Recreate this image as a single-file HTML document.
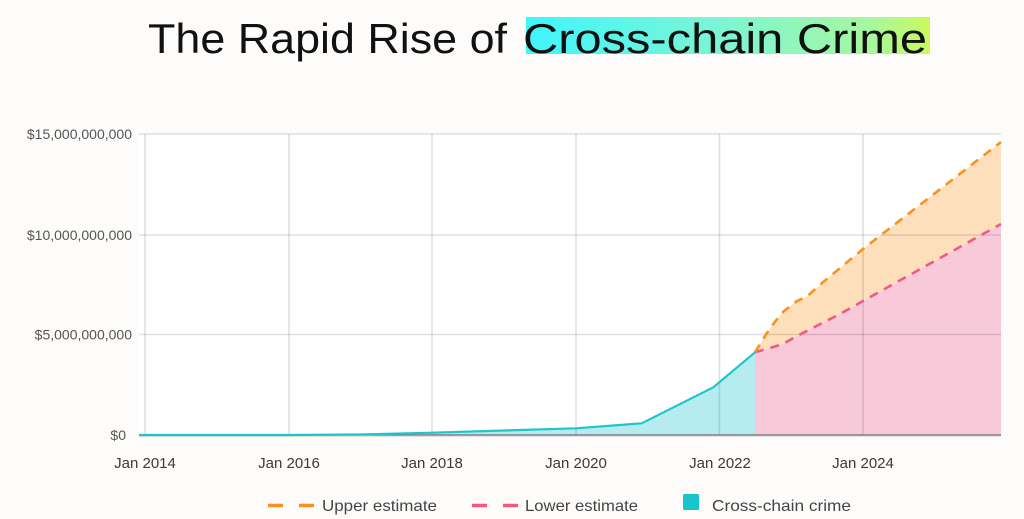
<!DOCTYPE html>
<html>
<head>
<meta charset="utf-8">
<style>
  html, body { margin:0; padding:0; background:#fdfcfb; }
  body { width:1024px; height:519px; overflow:hidden; }
  svg { display:block; }
  text { font-family: "Liberation Sans", "DejaVu Sans", sans-serif; }
</style>
</head>
<body>
<svg width="1024" height="519" viewBox="0 0 1024 519" xmlns="http://www.w3.org/2000/svg">
  <defs>
    <linearGradient id="hl" x1="0" y1="0" x2="1" y2="0">
      <stop offset="0" stop-color="#40f5fd"/>
      <stop offset="0.5" stop-color="#7ef5d2"/>
      <stop offset="0.85" stop-color="#a6f7a0"/>
      <stop offset="1" stop-color="#c9fa5c"/>
    </linearGradient>
  </defs>
  <rect x="0" y="0" width="1024" height="519" fill="#fdfcfb"/>

  <!-- Title -->
  <rect x="526" y="17" width="404" height="37" fill="url(#hl)"/>
  <text x="148" y="53" font-size="42" fill="#111" textLength="359" lengthAdjust="spacingAndGlyphs">The Rapid Rise of</text>
  <text x="523" y="53" font-size="42" fill="#111" textLength="404" lengthAdjust="spacingAndGlyphs">Cross-chain Crime</text>

  <!-- plot background -->
  <rect x="139" y="134" width="862" height="301" fill="#ffffff"/>

  <!-- fills -->
  <polygon fill="#b6ecef" points="139,435 217,435 289,435 360,434.5 432,432.7 504,430.5 576,428.3 641.7,423.3 713.3,387.3 755,352.3 755,435"/>
  <polygon fill="#f8c9d9" points="755,352.3 770,348 783,344 797,336 840,314 863,301 1001,224 1001,435 755,435"/>
  <polygon fill="#fddfbb" points="755,352.3 766.7,333.3 775,321.7 783.3,311.7 797,301 806.7,296.7 821.7,283.3 863,249 1001,142 1001,224 863,301 840,314 797,336 783,344 770,348"/>

  <!-- gridlines -->
  <g stroke="rgba(0,0,0,0.12)" stroke-width="1.6">
    <line x1="139" y1="134" x2="1001" y2="134"/>
    <line x1="139" y1="235" x2="1001" y2="235"/>
    <line x1="139" y1="334.5" x2="1001" y2="334.5"/>
    <line x1="145" y1="134" x2="145" y2="435"/>
    <line x1="289" y1="134" x2="289" y2="435"/>
    <line x1="432" y1="134" x2="432" y2="435"/>
    <line x1="576" y1="134" x2="576" y2="435"/>
    <line x1="719.5" y1="134" x2="719.5" y2="435"/>
    <line x1="863" y1="134" x2="863" y2="435"/>
  </g>
  <line x1="139" y1="435" x2="1001" y2="435" stroke="#7a7a7a" stroke-width="1.5"/>
  <line x1="139" y1="436.5" x2="1001" y2="436.5" stroke="#e2e2e2" stroke-width="1.2"/>

  <!-- cyan line -->
  <polyline fill="none" stroke="#1ec5cd" stroke-width="2.2" stroke-linejoin="round"
    points="139,435 217,435 289,435 360,434.5 432,432.7 504,430.5 576,428.3 641.7,423.3 713.3,387.3 755,352.3"/>

  <!-- estimates -->
  <polyline fill="none" stroke="#ef5a88" stroke-width="2.6" stroke-dasharray="9,7"
    points="755,352.3 770,348 783,344 797,336 840,314 863,301 1001,224"/>
  <polyline fill="none" stroke="#f7921f" stroke-width="2.6" stroke-dasharray="9,7"
    points="755,352.3 766.7,333.3 775,321.7 783.3,311.7 797,301 806.7,296.7 821.7,283.3 863,249 1001,142"/>

  <!-- y labels -->
  <g font-size="14" fill="#555" text-anchor="end">
    <text x="132" y="139">$15,000,000,000</text>
    <text x="132" y="240">$10,000,000,000</text>
    <text x="132" y="339.5">$5,000,000,000</text>
    <text x="126" y="440">$0</text>
  </g>

  <!-- x labels -->
  <g font-size="15" fill="#3a3a3a" text-anchor="middle">
    <text x="145" y="468">Jan 2014</text>
    <text x="289" y="468">Jan 2016</text>
    <text x="432" y="468">Jan 2018</text>
    <text x="576" y="468">Jan 2020</text>
    <text x="720" y="468">Jan 2022</text>
    <text x="863" y="468">Jan 2024</text>
  </g>

  <!-- legend -->
  <g stroke-width="3.5" stroke-linecap="butt">
    <line x1="268" y1="505.5" x2="283" y2="505.5" stroke="#f7921f"/>
    <line x1="299" y1="505.5" x2="314" y2="505.5" stroke="#f7921f"/>
    <line x1="472" y1="505.5" x2="487" y2="505.5" stroke="#ef5a88"/>
    <line x1="503" y1="505.5" x2="518" y2="505.5" stroke="#ef5a88"/>
  </g>
  <rect x="683" y="494" width="16" height="16" rx="1.5" fill="#17c5cc"/>
  <g font-size="16" fill="#444">
    <text x="322" y="511" textLength="115" lengthAdjust="spacingAndGlyphs">Upper estimate</text>
    <text x="525" y="511" textLength="113" lengthAdjust="spacingAndGlyphs">Lower estimate</text>
    <text x="712" y="511" textLength="139" lengthAdjust="spacingAndGlyphs">Cross-chain crime</text>
  </g>
</svg>
</body>
</html>
